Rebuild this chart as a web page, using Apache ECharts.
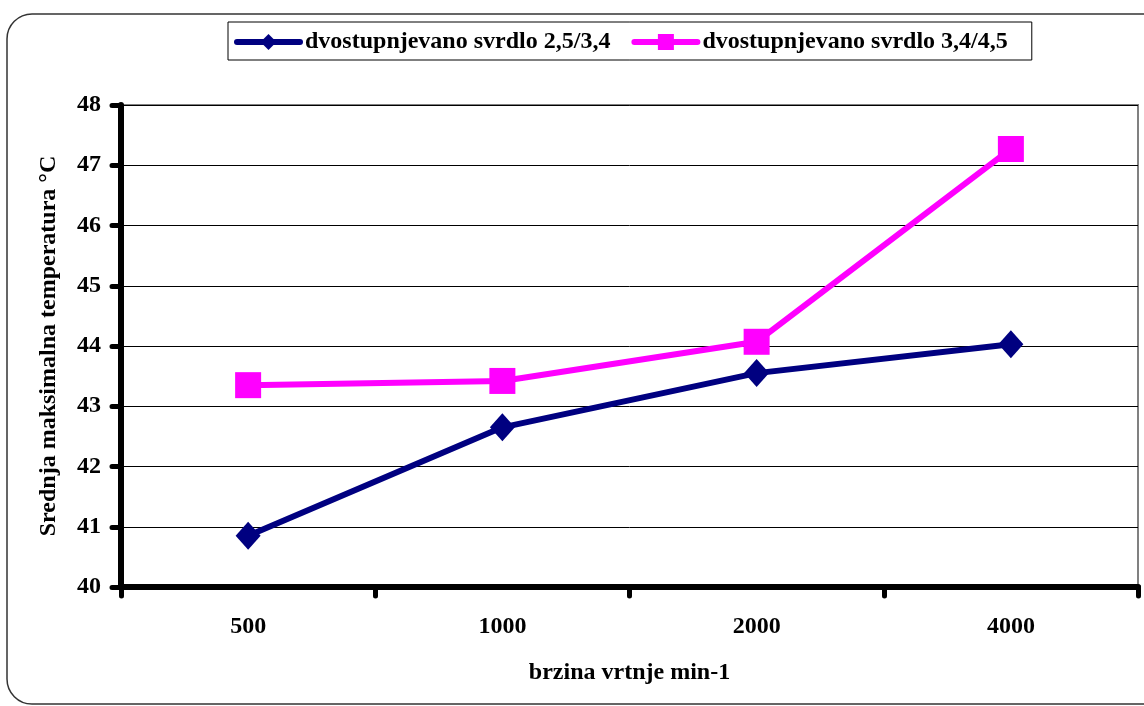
<!DOCTYPE html>
<html>
<head>
<meta charset="utf-8">
<script src="https://cdn.jsdelivr.net/npm/echarts@6/dist/echarts.min.js"></script>
<style>
html,body{margin:0;padding:0;background:#fff;}
#chart{width:1144px;height:706px;}
</style>
</head>
<body>
<div id="chart"></div>
<script>
const categories = ['500', '1000', '2000', '4000'];
const seriesNames = ['dvostupnjevano svrdlo 2,5/3,4', 'dvostupnjevano svrdlo 3,4/4,5'];
const drill1 = [40.85, 42.65, 43.55, 44.03];
const drill2 = [43.35, 43.42, 44.07, 47.27];
const yTicks = [40, 41, 42, 43, 44, 45, 46, 47, 48];

const FONT = '"Liberation Serif", "Times New Roman", serif';
const chart = echarts.init(document.getElementById('chart'), null, {renderer: 'canvas'});
chart.setOption({
  animation: false,
  backgroundColor: '#fff',
  graphic: [{
    type: 'rect',
    shape: {x: 7, y: 14, width: 1200, height: 690, r: 25},
    style: {fill: 'none', stroke: '#333', lineWidth: 1.5},
    z: -1
  }],
  legend: {
    left: 228, top: 22,
    padding: [8, 24, 6, 6],
    itemGap: 21,
    itemWidth: 63, itemHeight: 20,
    borderColor: '#000', borderWidth: 1,
    lineStyle: {width: 6, cap: 'round'},
    textStyle: {fontFamily: FONT, fontWeight: 'bold', fontSize: 24, color: '#000'},
    data: seriesNames
  },
  grid: {
    left: 121, right: 6, top: 105, bottom: 119,
    show: true, borderColor: '#808080', borderWidth: 2, backgroundColor: 'transparent'
  },
  xAxis: {
    type: 'category',
    data: categories,
    boundaryGap: true,
    name: 'brzina vrtnje min-1',
    nameLocation: 'middle',
    nameGap: 74,
    nameTextStyle: {fontFamily: FONT, fontWeight: 'bold', fontSize: 24, color: '#000'},
    axisLine: {lineStyle: {color: '#000', width: 6}},
    axisTick: {show: true, interval: 0, length: 9, lineStyle: {color: '#000', width: 5, cap: 'round'}},
    axisLabel: {margin: 28, fontFamily: FONT, fontWeight: 'bold', fontSize: 24, color: '#000'},
    splitLine: {show: false}
  },
  yAxis: {
    type: 'value',
    min: yTicks[0], max: yTicks[yTicks.length - 1], interval: 1,
    name: 'Srednja maksimalna temperatura °C',
    nameLocation: 'middle',
    nameGap: 60,
    nameTextStyle: {fontFamily: FONT, fontWeight: 'bold', fontSize: 24, color: '#000'},
    axisLine: {show: true, lineStyle: {color: '#000', width: 6}},
    axisTick: {show: true, length: 9, lineStyle: {color: '#000', width: 5, cap: 'round'}},
    axisLabel: {margin: 20, fontFamily: FONT, fontWeight: 'bold', fontSize: 24, color: '#000'},
    splitLine: {show: true, lineStyle: {color: '#000', width: 1}}
  },
  series: [{
    name: seriesNames[0],
    type: 'line',
    data: drill1,
    symbol: 'diamond',
    symbolSize: [25, 28],
    lineStyle: {color: '#000080', width: 6},
    itemStyle: {color: '#000080'},
    z: 3
  }, {
    name: seriesNames[1],
    type: 'line',
    data: drill2,
    symbol: 'rect',
    symbolSize: 26,
    lineStyle: {color: '#FF00FF', width: 6},
    itemStyle: {color: '#FF00FF'},
    z: 4
  }]
});
</script>
</body>
</html>
